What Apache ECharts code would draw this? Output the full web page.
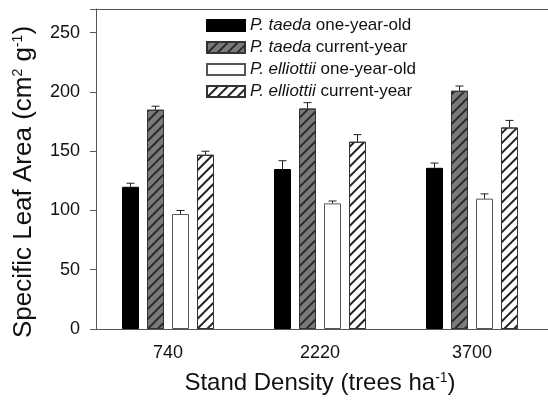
<!DOCTYPE html>
<html>
<head>
<meta charset="utf-8">
<script src="https://cdn.jsdelivr.net/npm/echarts@6/dist/echarts.min.js"></script>
<style>
  html, body { margin: 0; padding: 0; background: #fff; }
  #chart { width: 548px; height: 400px; }
</style>
</head>
<body>
<div id="chart"></div>
<script>
// stand densities (trees ha-1)
var categories = ['740', '2220', '3700'];
var seriesNames = [
  'P. taeda one-year-old',
  'P. taeda current-year',
  'P. elliottii one-year-old',
  'P. elliottii current-year'
];
// specific leaf area means (cm2 g-1)
var taedaOld = [120, 135, 136];
var taedaCur = [185, 186, 201];
var elliottiiOld = [97, 106, 110];
var elliottiiCur = [147, 158, 170];
// upper ends of error bars
var taedaOldErr = [123, 142, 140];
var taedaCurErr = [188, 191, 205];
var elliottiiOldErr = [100, 108, 114];
var elliottiiCurErr = [150, 164, 176];
var yTicks = [0, 50, 100, 150, 200, 250];

var FONT = 'Liberation Sans, Arial, sans-serif';
var BAR_W = 17, BAR_STEP = 25;

var chart = echarts.init(document.getElementById('chart'));

var hatch = function (color) {
  return {
    symbol: 'rect',
    symbolSize: 1,
    color: color,
    dashArrayX: [1, 0],
    dashArrayY: [1.1, 4.6],
    rotation: -Math.PI / 4
  };
};

var styles = [
  { color: '#000', borderColor: '#000', borderWidth: 1 },
  { color: '#7a7a7a', borderColor: '#333', borderWidth: 1, decal: hatch('#2a2a2a') },
  { color: '#fff', borderColor: '#555', borderWidth: 1 },
  { color: '#fff', borderColor: '#333', borderWidth: 1, decal: hatch('#222') }
];
var means = [taedaOld, taedaCur, elliottiiOld, elliottiiCur];
var errs = [taedaOldErr, taedaCurErr, elliottiiOldErr, elliottiiCurErr];

function errRender(offset) {
  return function (params, api) {
    var c = api.value(0);
    var base = api.coord([c, api.value(1)]);
    var top = api.coord([c, api.value(2)]);
    var x = base[0] + offset;
    var st = { stroke: '#222', lineWidth: 1 };
    return {
      type: 'group',
      children: [
        { type: 'line', shape: { x1: x, y1: base[1], x2: x, y2: top[1] }, style: st },
        { type: 'line', shape: { x1: x - 4, y1: top[1], x2: x + 4, y2: top[1] }, style: st }
      ]
    };
  };
}

var series = [];
means.forEach(function (vals, i) {
  series.push({
    name: seriesNames[i],
    type: 'bar',
    barWidth: BAR_W,
    barGap: ((BAR_STEP - BAR_W) / BAR_W * 100) + '%',
    itemStyle: styles[i],
    data: vals,
    z: 2
  });
});
errs.forEach(function (vals, i) {
  series.push({
    name: 'err' + i,
    type: 'custom',
    renderItem: errRender((i - 1.5) * BAR_STEP),
    data: vals.map(function (v, k) { return [k, means[i][k], v]; }),
    z: 3
  });
});

var supRich = {
  sup: { fontFamily: FONT, fontSize: 14, color: '#111', verticalAlign: 'top' }
};

var option = {
  animation: false,
  backgroundColor: '#fff',
  grid: { left: 92, top: 9, width: 462, height: 320 },
  legend: {
    data: seriesNames,
    orient: 'vertical',
    left: 201,
    top: 12,
    icon: 'rect',
    itemWidth: 38,
    itemHeight: 11,
    itemGap: 5,
    selectedMode: false,
    formatter: function (name) {
      var parts = name.split(' ');
      return '{i|' + parts[0] + ' ' + parts[1] + '} ' + parts.slice(2).join(' ');
    },
    textStyle: {
      fontFamily: FONT, fontSize: 17, color: '#111',
      rich: { i: { fontStyle: 'italic', fontFamily: FONT, fontSize: 17, color: '#111' } }
    }
  },
  xAxis: [{
    type: 'category',
    data: categories,
    axisLine: { lineStyle: { color: '#555', width: 1 } },
    axisTick: { show: false },
    axisLabel: { fontFamily: FONT, fontSize: 18, color: '#111', margin: 15 },
    name: 'Stand Density (trees ha{sup|-1})',
    nameLocation: 'middle',
    nameGap: 42,
    nameTextStyle: { fontFamily: FONT, fontSize: 24, color: '#111', rich: supRich }
  }, {
    type: 'category',
    position: 'top',
    data: categories,
    axisLine: { lineStyle: { color: '#555', width: 1 } },
    axisTick: { show: false },
    axisLabel: { show: false }
  }],
  yAxis: {
    type: 'value',
    min: yTicks[0],
    max: 270,
    interval: 50,
    offset: -4,
    axisLine: { show: true, lineStyle: { color: '#555', width: 1 } },
    axisTick: { show: true, inside: false, length: 6, lineStyle: { color: '#555' } },
    axisLabel: {
      fontFamily: FONT, fontSize: 18, color: '#111', margin: 16,
      formatter: function (v) { return yTicks.indexOf(v) >= 0 ? v : ''; }
    },
    splitLine: { show: false },
    name: 'Specific Leaf Area (cm{sup|2} g{sup|-1})',
    nameLocation: 'middle',
    nameGap: 59,
    nameTextStyle: { fontFamily: FONT, fontSize: 26, color: '#111', padding: [0, 0, 0, -26], rich: supRich }
  },
  series: series
};

chart.setOption(option);
</script>
</body>
</html>
